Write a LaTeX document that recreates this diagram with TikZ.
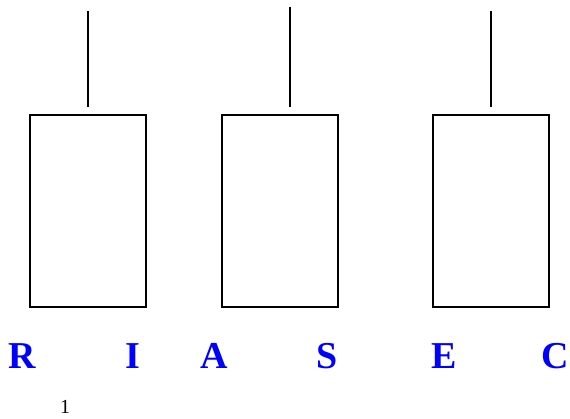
\documentclass[tikz,border=0pt]{standalone}
\usepackage{fontspec}
\setmainfont{Liberation Serif}
\usepackage{xcolor}
\usetikzlibrary{positioning}
\def\boxw{116pt}
\def\boxh{192pt}

\begin{document}
\begin{tikzpicture}[x=1pt,y=-1pt,line width=1.5pt]
    \tikzstyle{column}=[rectangle,draw=black,minimum width=\boxw,minimum height=\boxh,inner sep=0pt]
    \tikzstyle{stem}=[draw=black,shorten >=7pt]
    \tikzstyle{code}=[text=blue,font=\fontsize{38}{38}\selectfont\bfseries,anchor=base,inner sep=0pt]
    \tikzstyle{pagenum}=[font=\fontsize{20}{20}\selectfont,anchor=base,inner sep=0pt]

    \useasboundingbox (0,0) rectangle (570,418);

    % the three columns
    \foreach \name / \x in {1/88,2/280,3/491}
        \node[column] (B-\name) at (\x,211) {};

    % the stems above them
    \coordinate (T-1) at (88,11);
    \coordinate (T-2) at (290,7);
    \coordinate (T-3) at (491,11);
    \draw[stem] (T-1) -- (B-1.north);
    \draw[stem] (T-2) -- ([xshift=10pt]B-2.north);
    \draw[stem] (T-3) -- (B-3.north);

    % letters along the bottom
    \foreach \letter / \x in {R/22,I/133,A/214,S/327,E/444,C/555}
        \node[code] (L-\letter) at (\x,368) {\letter};

    \node[pagenum] (page) at (65,413) {1};
\end{tikzpicture}
\end{document}
